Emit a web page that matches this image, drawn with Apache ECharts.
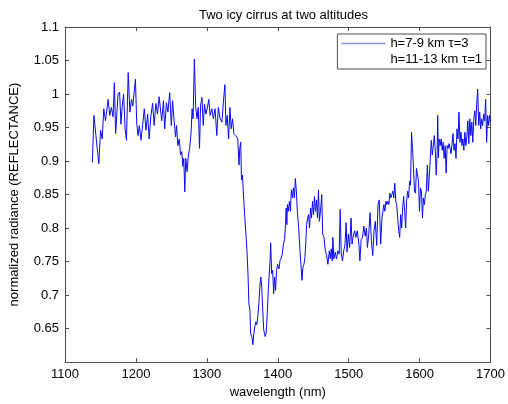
<!DOCTYPE html>
<html>
<head>
<meta charset="utf-8">
<script src="https://cdn.jsdelivr.net/npm/echarts@6/dist/echarts.min.js"></script>
<style>
  html, body { margin: 0; padding: 0; background: #fff; }
  #chart { width: 508px; height: 404px; }
</style>
</head>
<body>
<div id="chart"></div>
<script>
// Reflectance spectrum under two stacked cirrus layers
const chartTitle = 'Two icy cirrus at two altitudes';
const seriesNames = ['h=7-9 km \u03c4=3', 'h=11-13 km \u03c4=1'];

const wavelength = [
  1138.6, 1140.8, 1143.6, 1145.5, 1147.7, 1150.1, 1152.5, 1154.7, 1157.1, 1160.8,
  1163.1, 1165.4, 1167.8, 1169.6, 1171.4, 1174.8, 1177.0, 1178.9, 1180.7, 1182.6,
  1184.9, 1186.7, 1189.1, 1191.5, 1193.7, 1195.6, 1199.3, 1201.2, 1203.0, 1204.8,
  1207.2, 1209.6, 1211.8, 1214.2, 1216.5, 1218.7, 1221.1, 1223.5, 1225.7, 1228.1,
  1230.4, 1232.7,
  1236.4, 1238.8, 1240.6, 1243.0, 1245.2, 1247.6, 1249.9, 1251.7, 1253.6, 1255.9,
  1257.3, 1259.1, 1261.1, 1262.9, 1264.7, 1266.1, 1267.5, 1268.9, 1270.3, 1272.2,
  1274.0, 1275.8, 1277.8, 1279.2, 1280.6, 1282.4, 1284.2, 1286.1, 1287.9, 1289.7,
  1291.1, 1293.1, 1294.9, 1296.7, 1298.7, 1300.5, 1302.8, 1304.6, 1307.0, 1309.2,
  1311.6, 1314.0, 1316.2, 1318.6, 1321.3, 1323.2, 1325.5, 1326.9, 1328.7, 1330.7,
  1332.5, 1334.3, 1336.2, 1338.1, 1340.8, 1343.6, 1345.4, 1346.4,
  1347.8, 1348.8, 1350.2, 1352.4, 1354.8, 1356.6, 1358.0, 1359.3, 1360.7, 1361.7,
  1363.5, 1364.9, 1366.3, 1367.7, 1369.1, 1370.5, 1371.9, 1373.3, 1374.7, 1376.1,
  1377.4, 1378.8, 1380.2, 1382.2, 1383.6, 1385.0, 1386.4, 1387.7, 1389.1, 1390.0,
  1391.4, 1392.8, 1394.2, 1395.5, 1396.9, 1398.3, 1399.7, 1401.7, 1403.1, 1404.5,
  1406.3, 1408.1, 1409.5, 1410.9, 1411.8, 1412.8, 1413.6, 1415.0, 1416.4, 1417.8,
  1419.2, 1420.6, 1422.0, 1423.4, 1424.8, 1426.2, 1427.6, 1429.5, 1431.3, 1432.7,
  1434.1, 1435.5, 1436.9, 1438.3, 1439.7, 1440.6, 1442.0, 1443.4, 1444.8,
  1446.2, 1447.6, 1449.0, 1450.4, 1451.8, 1453.2, 1454.6, 1456.0, 1457.4, 1458.7,
  1460.6, 1462.0, 1463.3, 1465.2, 1467.1, 1468.9, 1470.7, 1472.7, 1474.1, 1475.4,
  1476.8, 1477.7, 1479.1, 1481.0, 1482.8, 1484.6, 1486.6, 1488.0, 1489.4, 1491.2,
  1493.0, 1494.9, 1496.3, 1497.7, 1499.5, 1501.3, 1503.3, 1504.7, 1506.5, 1508.3,
  1510.2, 1512.1, 1514.4, 1515.8, 1517.6, 1519.4, 1521.4, 1523.2, 1525.0, 1526.4,
  1528.3, 1530.2, 1532.0, 1533.9, 1535.7, 1537.5, 1539.5, 1541.3, 1543.1, 1545.1,
  1546.9, 1548.7,
  1549.6, 1551.0, 1552.4, 1553.8, 1555.2, 1556.6, 1558.0, 1559.4, 1560.8, 1562.2,
  1563.6, 1565.0, 1566.4, 1567.7, 1569.1, 1570.5, 1571.9, 1573.3, 1574.7, 1576.1,
  1577.5, 1578.9, 1580.3, 1581.7, 1583.1, 1584.5, 1585.9, 1587.2, 1588.6, 1590.0,
  1591.4, 1592.8, 1594.2, 1595.6, 1597.0, 1598.4, 1599.8, 1601.2, 1602.6, 1604.0,
  1605.3, 1606.7, 1608.1, 1609.5, 1610.9, 1612.3, 1613.7, 1615.1, 1616.5, 1617.9,
  1619.3, 1620.7, 1622.1, 1623.4, 1624.8, 1625.5, 1626.5,
  1627.6, 1629.0, 1630.4, 1631.8, 1633.2, 1634.6, 1636.0, 1637.4, 1638.8, 1640.2,
  1641.5, 1642.9, 1644.3, 1645.7, 1647.1, 1648.5, 1649.9, 1651.3, 1652.7, 1654.1,
  1655.5, 1656.9, 1658.3, 1659.7, 1661.0, 1662.4, 1663.8, 1665.2, 1666.6, 1668.0,
  1669.4, 1670.8, 1672.2, 1673.6, 1675.0, 1676.4, 1677.8, 1679.2, 1680.5, 1681.9,
  1683.3, 1684.7, 1686.1, 1687.5, 1688.9, 1690.3, 1691.7, 1693.1, 1694.5, 1695.9,
  1697.3, 1698.6, 1700.0
];

const radiance = [
  0.898, 0.968, 0.938, 0.918, 0.896, 0.946, 0.933, 0.978, 0.960, 0.992,
  0.968, 0.980, 0.966, 1.017, 0.941, 1.000, 1.003, 0.955, 0.982, 1.000,
  0.946, 0.931, 1.032, 0.973, 0.992, 0.982, 1.022, 0.955, 0.938, 0.953,
  0.931, 0.955, 0.978, 0.946, 0.970, 0.933, 0.967, 0.986, 0.953, 0.986,
  0.970, 0.996,
  0.960, 0.990, 0.948, 0.987, 0.973, 1.002, 0.953, 0.990, 0.963, 0.936,
  0.953, 0.923, 0.933, 0.909, 0.914, 0.892, 0.904, 0.854, 0.904, 0.884,
  0.909, 0.919, 0.943, 0.978, 0.963, 1.052, 0.982, 0.963, 0.980, 0.919,
  0.982, 0.995, 0.953, 0.985, 0.970, 0.978, 0.992, 0.968, 0.978, 0.963,
  0.978, 0.938, 0.980, 0.963, 0.958, 0.987, 1.014, 0.953, 0.968, 0.933,
  0.980, 0.948, 0.963, 0.941, 0.938, 0.933, 0.894, 0.919,
  0.928, 0.872, 0.879, 0.835, 0.796, 0.766, 0.732, 0.687, 0.678, 0.643,
  0.638, 0.626, 0.643, 0.653, 0.660, 0.656, 0.668, 0.687, 0.712, 0.727,
  0.712, 0.678, 0.648, 0.638, 0.643, 0.668, 0.702, 0.727, 0.751, 0.778,
  0.732, 0.737, 0.702, 0.727, 0.707, 0.737, 0.746, 0.739, 0.751, 0.754,
  0.761, 0.776, 0.783, 0.805, 0.830, 0.805, 0.835, 0.825, 0.840, 0.825,
  0.857, 0.845, 0.860, 0.845, 0.874, 0.855, 0.825, 0.800, 0.766, 0.746,
  0.722, 0.742, 0.746, 0.756, 0.781, 0.805, 0.815, 0.820, 0.800,
  0.830, 0.815, 0.840, 0.820, 0.847, 0.825, 0.842, 0.815, 0.857, 0.810,
  0.830, 0.850, 0.791, 0.786, 0.766, 0.759, 0.746, 0.766, 0.754, 0.769,
  0.751, 0.786, 0.754, 0.764, 0.754, 0.766, 0.761, 0.828, 0.764, 0.751,
  0.766, 0.776, 0.808, 0.764, 0.791, 0.771, 0.815, 0.776, 0.788, 0.796,
  0.786, 0.796, 0.776, 0.751, 0.783, 0.786, 0.803, 0.788, 0.800, 0.771,
  0.791, 0.823, 0.781, 0.759, 0.796, 0.810, 0.774, 0.835, 0.842, 0.776,
  0.815, 0.813,
  0.835, 0.825, 0.840, 0.835, 0.840, 0.835, 0.852, 0.845, 0.850, 0.855,
  0.845, 0.867, 0.840, 0.835, 0.815, 0.796, 0.786, 0.820, 0.800, 0.830,
  0.847, 0.825, 0.800, 0.840, 0.855, 0.845, 0.870, 0.864, 0.943, 0.919,
  0.889, 0.855, 0.852, 0.889, 0.887, 0.870, 0.825, 0.860, 0.855, 0.815,
  0.845, 0.835, 0.850, 0.855, 0.894, 0.855, 0.879, 0.904, 0.931, 0.909,
  0.923, 0.938, 0.916, 0.879, 0.914, 0.968, 0.905,
  0.933, 0.923, 0.933, 0.916, 0.928, 0.904, 0.923, 0.882, 0.923, 0.919,
  0.926, 0.919, 0.911, 0.909, 0.941, 0.916, 0.926, 0.904, 0.948, 0.933,
  0.973, 0.928, 0.943, 0.923, 0.933, 0.916, 0.943, 0.923, 0.936, 0.960,
  0.926, 0.963, 0.938, 0.958, 0.928, 0.963, 0.975, 0.953, 0.985, 1.007,
  0.953, 0.973, 0.948, 0.963, 0.953, 0.970, 0.960, 0.992, 0.928, 0.968,
  0.953, 0.968, 0.958
];

const xMin = 1100, xMax = 1700, xStep = 100;
const yMin = 0.6, yMax = 1.1, yStep = 0.05;

const font = 'Liberation Sans, Arial, Helvetica, sans-serif';
const axisColor = '#4d4d4d';
const lineBlue = '#0a0af0';
const legendLine = '#8e8ef2';

const spectrum = wavelength.map((w, i) => [w, radiance[i]]);

function frameAxis(extra) {
  return Object.assign({
    type: 'value',
    axisLine: { show: true, onZero: false, lineStyle: { color: axisColor, width: 1 } },
    axisTick: { show: true, inside: true, length: 4, lineStyle: { color: axisColor } },
    splitLine: { show: false }
  }, extra);
}

// a flat bar used as the legend key, drawn as a short horizontal stroke
const keyIcon = 'path://M0,0L44,0L44,1.6L0,1.6Z';

const chart = echarts.init(document.getElementById('chart'), null, { renderer: 'canvas' });
chart.setOption({
  backgroundColor: '#ffffff',
  animation: false,
  title: {
    text: chartTitle,
    left: 278.5,
    textAlign: 'center',
    top: 4,
    textStyle: { fontFamily: font, fontSize: 13, fontWeight: 'normal', color: '#000' }
  },
  grid: { left: 63, right: 14, top: 27, bottom: 38, containLabel: false },
  xAxis: [
    frameAxis({
      min: xMin, max: xMax, interval: xStep,
      name: 'wavelength (nm)', nameLocation: 'middle', nameGap: 21,
      nameTextStyle: { fontFamily: font, fontSize: 13, color: '#000' },
      axisLabel: { fontFamily: font, fontSize: 13, color: '#000', margin: 6, formatter: v => String(v) }
    }),
    frameAxis({
      position: 'top', min: xMin, max: xMax, interval: xStep,
      axisLabel: { show: false }
    })
  ],
  yAxis: [
    frameAxis({
      min: yMin, max: yMax, interval: yStep,
      name: 'normalized radiance (REFLECTANCE)', nameLocation: 'middle', nameGap: 44,
      nameTextStyle: { fontFamily: font, fontSize: 13, color: '#000' },
      axisLabel: {
        fontFamily: font, fontSize: 13, color: '#000', margin: 6,
        showMinLabel: false,
        formatter: v => String(Math.round(v * 100) / 100)
      }
    }),
    frameAxis({
      position: 'right', min: yMin, max: yMax, interval: yStep,
      axisLabel: { show: false }
    })
  ],
  legend: {
    orient: 'vertical',
    right: 22,
    top: 34,
    backgroundColor: '#ffffff',
    borderColor: axisColor,
    borderWidth: 1,
    borderRadius: 0,
    padding: [3, 4, 3, 4],
    itemWidth: 44,
    itemHeight: 12,
    itemGap: 3,
    symbolKeepAspect: true,
    textStyle: { fontFamily: font, fontSize: 13, color: '#000' },
    data: [
      {
        name: seriesNames[0],
        icon: keyIcon,
        itemStyle: { color: legendLine, opacity: 1, borderWidth: 0 }
      },
      {
        name: seriesNames[1],
        icon: keyIcon,
        itemStyle: { color: 'rgba(255,255,255,0)', opacity: 0, borderWidth: 0 }
      }
    ]
  },
  series: [
    {
      name: seriesNames[0],
      type: 'line',
      data: spectrum,
      symbol: 'none',
      showSymbol: false,
      color: legendLine,
      lineStyle: { color: lineBlue, width: 1 },
      itemStyle: { color: legendLine },
      z: 3
    },
    {
      name: seriesNames[1],
      type: 'line',
      data: [],
      symbol: 'none',
      lineStyle: { color: '#ffffff', width: 1 },
      itemStyle: { color: '#ffffff' }
    }
  ]
});
</script>
</body>
</html>
